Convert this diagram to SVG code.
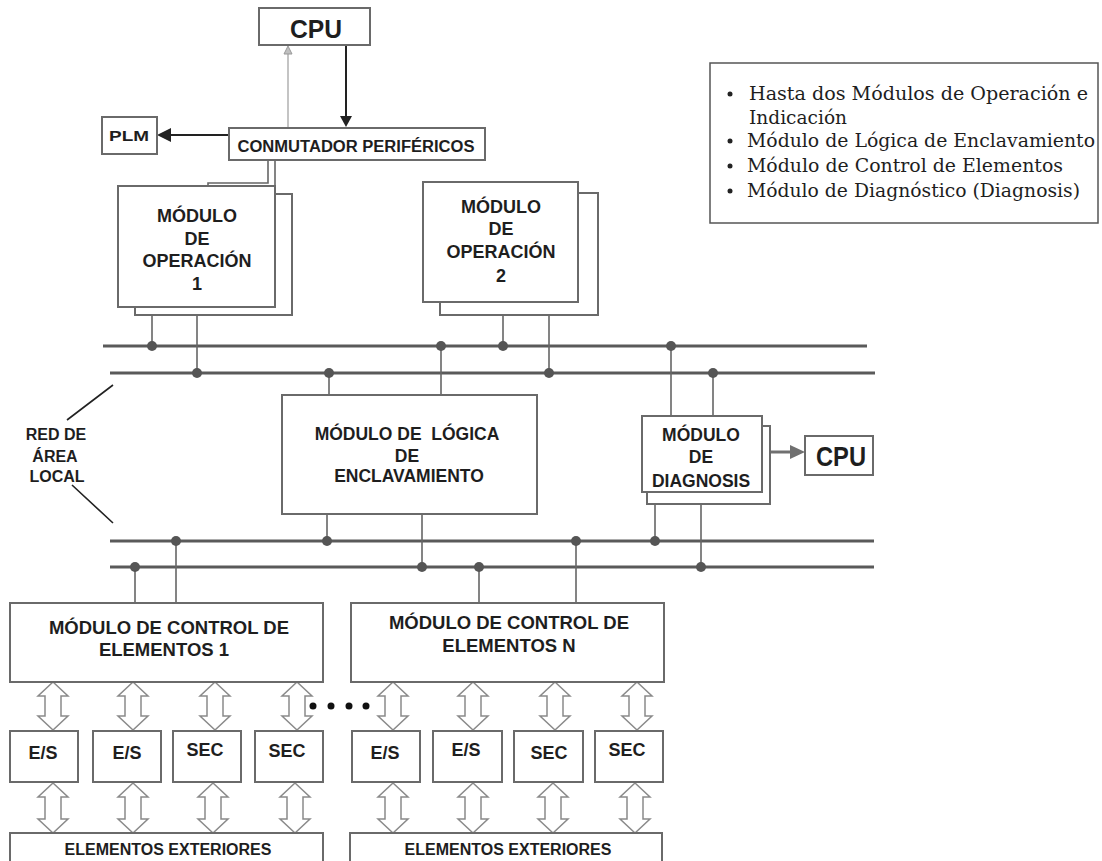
<svg xmlns="http://www.w3.org/2000/svg" width="1102" height="861" viewBox="0 0 1102 861">
<style>
.box{fill:#fff;stroke:#6a6a6a;stroke-width:2}
.t{font-family:"Liberation Sans",Arial,sans-serif;font-weight:bold;fill:#1e1e1e;text-anchor:middle}
.c{font-family:"Liberation Sans",Arial,sans-serif;font-weight:bold;fill:#1e1e1e;text-anchor:middle}
.bus{stroke:#5a5a5a;stroke-width:3;fill:none}
.wire{stroke:#666;stroke-width:1.6;fill:none}
.dot{fill:#555}
.dbl{fill:#fff;stroke:#8a8a8a;stroke-width:1.5}
.leg{font-family:"DejaVu Serif","Liberation Serif",serif;fill:#1e1e1e}
</style>
<defs>
<path id="dblU" class="dbl" d="M0,0 L15,14 L8,14 L8,34 L15,34 L0,48 L-15,34 L-8,34 L-8,14 L-15,14 Z"/>
<path id="dblL" class="dbl" d="M0,0 L15,14 L8,14 L8,36 L15,36 L0,50 L-15,36 L-8,36 L-8,14 L-15,14 Z"/>
</defs>

<g id="connectors">
<path class="bus" d="M103,346 H867 M110,373 H875 M110,541 H874 M110,567 H874"/>
<path class="wire" d="M268,160 V183 H208 V186 M275,160 V186"/>
<path class="wire" d="M152,307 V346 M197,307 V373"/>
<path class="wire" d="M503,315 V346 M549,315 V373"/>
<path class="wire" d="M329,373 V395 M441,346 V395"/>
<path class="wire" d="M327,514 V541 M422,514 V567"/>
<path class="wire" d="M671,346 V416 M713,373 V416"/>
<path class="wire" d="M655,492 V541 M701,492 V567"/>
<path class="wire" d="M135,567 V603 M176,541 V603"/>
<path class="wire" d="M479,567 V603 M576,541 V603"/>
<g class="dot">
<circle cx="152" cy="346" r="5"/><circle cx="441" cy="346" r="5"/><circle cx="503" cy="346" r="5"/><circle cx="671" cy="346" r="5"/>
<circle cx="197" cy="373" r="5"/><circle cx="329" cy="373" r="5"/><circle cx="549" cy="373" r="5"/><circle cx="713" cy="373" r="5"/>
<circle cx="176" cy="541" r="5"/><circle cx="327" cy="541" r="5"/><circle cx="576" cy="541" r="5"/><circle cx="655" cy="541" r="5"/>
<circle cx="135" cy="567" r="5"/><circle cx="422" cy="567" r="5"/><circle cx="479" cy="567" r="5"/><circle cx="701" cy="567" r="5"/>
</g>
<line x1="288" y1="128" x2="288" y2="53" stroke="#b0b0b0" stroke-width="1.5"/>
<polygon points="288,46 284,54 292,54" fill="#c0c0c0" stroke="#999" stroke-width="1"/>
<line x1="346" y1="46" x2="346" y2="118" stroke="#222" stroke-width="2"/>
<polygon points="346,127 340,116 352,116" fill="#222"/>
<line x1="229" y1="135" x2="170" y2="135" stroke="#222" stroke-width="2"/>
<polygon points="157,135 171,128 171,142" fill="#222"/>
<line x1="762" y1="452" x2="793" y2="452" stroke="#707070" stroke-width="3"/>
<polygon points="805,452 790,445 790,459" fill="#707070"/>
<path d="M113,385 L67,420 M72,485 L113,523" stroke="#222" stroke-width="1.6" fill="none"/>
<g fill="#111">
<circle cx="313" cy="706" r="3.5"/><circle cx="331" cy="706" r="3.5"/><circle cx="349" cy="706" r="3.5"/><circle cx="366" cy="706" r="3.5"/>
</g>
<use href="#dblU" x="53" y="682"/><use href="#dblU" x="133" y="682"/><use href="#dblU" x="215" y="682"/><use href="#dblU" x="297" y="682"/>
<use href="#dblU" x="393" y="682"/><use href="#dblU" x="473" y="682"/><use href="#dblU" x="555" y="682"/><use href="#dblU" x="637" y="682"/>
<use href="#dblL" x="53" y="783"/><use href="#dblL" x="133" y="783"/><use href="#dblL" x="213" y="783"/><use href="#dblL" x="295" y="783"/>
<use href="#dblL" x="393" y="783"/><use href="#dblL" x="473" y="783"/><use href="#dblL" x="553" y="783"/><use href="#dblL" x="635" y="783"/>
</g>

<g id="cpu-top">
<rect class="box" x="259" y="8" width="111" height="37"/>
<text class="c" x="316" y="38" font-size="25" textLength="52" lengthAdjust="spacingAndGlyphs">CPU</text>
</g>
<g id="conmutador">
<rect class="box" x="229" y="128" width="256" height="32"/>
<text class="t" x="356" y="152" font-size="16" textLength="237" lengthAdjust="spacingAndGlyphs">CONMUTADOR PERIFÉRICOS</text>
</g>
<g id="plm">
<rect class="box" x="102" y="117" width="55" height="37"/>
<text class="t" x="129" y="141" font-size="15" textLength="40" lengthAdjust="spacingAndGlyphs">PLM</text>
</g>
<g id="op1">
<rect class="box" x="135" y="194" width="157" height="121"/>
<rect class="box" x="118" y="186" width="157" height="121"/>
<text class="t" font-size="18"><tspan x="197" y="222">MÓDULO</tspan><tspan x="197" y="245">DE</tspan><tspan x="197" y="267">OPERACIÓN</tspan><tspan x="197" y="290">1</tspan></text>
</g>
<g id="op2">
<rect class="box" x="440" y="193" width="158" height="122"/>
<rect class="box" x="423" y="182" width="155" height="120"/>
<text class="t" font-size="18"><tspan x="501" y="213">MÓDULO</tspan><tspan x="501" y="235">DE</tspan><tspan x="501" y="258">OPERACIÓN</tspan><tspan x="501" y="282">2</tspan></text>
</g>
<g id="logica">
<rect class="box" x="282" y="395" width="255" height="119"/>
<text class="t" font-size="17.5" xml:space="preserve"><tspan x="407" y="440">MÓDULO DE  LÓGICA</tspan><tspan x="407" y="462">DE</tspan><tspan x="409" y="482">ENCLAVAMIENTO</tspan></text>
</g>
<g id="diagnosis">
<rect class="box" x="647" y="426" width="123" height="78"/>
<rect class="box" x="642" y="416" width="120" height="76"/>
<text class="t" font-size="17.5"><tspan x="701" y="441">MÓDULO</tspan><tspan x="701" y="463">DE</tspan><tspan x="701" y="487">DIAGNOSIS</tspan></text>
</g>
<g id="cpu-right">
<rect class="box" x="805" y="436" width="68" height="39"/>
<text class="c" x="841" y="466" font-size="28" textLength="50" lengthAdjust="spacingAndGlyphs">CPU</text>
</g>
<g id="red-label">
<text class="t" font-size="16"><tspan x="56" y="440">RED DE</tspan><tspan x="55" y="462">ÁREA</tspan><tspan x="57" y="482">LOCAL</tspan></text>
</g>
<g id="ctrl1">
<rect class="box" x="10" y="603" width="313" height="79"/>
<text class="t" font-size="18.5"><tspan x="169" y="634">MÓDULO DE CONTROL DE</tspan><tspan x="164" y="656">ELEMENTOS 1</tspan></text>
</g>
<g id="ctrlN">
<rect class="box" x="351" y="603" width="313" height="79"/>
<text class="t" font-size="18.5"><tspan x="509" y="629">MÓDULO DE CONTROL DE</tspan><tspan x="509" y="652">ELEMENTOS N</tspan></text>
</g>
<g id="io1">
<rect class="box" x="10" y="731" width="68" height="51"/><text class="t" x="43" y="759" font-size="18">E/S</text>
</g>
<g id="io2">
<rect class="box" x="93" y="731" width="68" height="51"/><text class="t" x="127" y="759" font-size="18">E/S</text>
</g>
<g id="sec1">
<rect class="box" x="173" y="731" width="68" height="51"/><text class="t" x="205" y="756" font-size="18">SEC</text>
</g>
<g id="sec2">
<rect class="box" x="255" y="731" width="68" height="51"/><text class="t" x="287" y="757" font-size="18">SEC</text>
</g>
<g id="io3">
<rect class="box" x="352" y="731" width="68" height="51"/><text class="t" x="385" y="759" font-size="18">E/S</text>
</g>
<g id="io4">
<rect class="box" x="433" y="731" width="69" height="51"/><text class="t" x="466" y="756" font-size="18">E/S</text>
</g>
<g id="sec3">
<rect class="box" x="514" y="731" width="69" height="51"/><text class="t" x="549" y="759" font-size="18">SEC</text>
</g>
<g id="sec4">
<rect class="box" x="595" y="731" width="68" height="51"/><text class="t" x="627" y="756" font-size="18">SEC</text>
</g>
<g id="ext1">
<rect class="box" x="10" y="833" width="313" height="30"/>
<text class="t" x="168" y="855" font-size="16">ELEMENTOS EXTERIORES</text>
</g>
<g id="extN">
<rect class="box" x="350" y="833" width="312" height="30"/>
<text class="t" x="508" y="855" font-size="16">ELEMENTOS EXTERIORES</text>
</g>
<g id="legend">
<rect x="710" y="63" width="388" height="160" fill="#fff" stroke="#555" stroke-width="1.5"/>
<g fill="#222">
<circle cx="730" cy="94" r="2.5"/><circle cx="730" cy="141" r="2.5"/><circle cx="730" cy="166" r="2.5"/><circle cx="730" cy="191" r="2.5"/>
</g>
<text class="leg" font-size="19">
<tspan x="749" y="100" textLength="339" lengthAdjust="spacingAndGlyphs">Hasta dos Módulos de Operación e</tspan>
<tspan x="749" y="124" textLength="98" lengthAdjust="spacingAndGlyphs">Indicación</tspan>
<tspan x="747" y="147" textLength="348" lengthAdjust="spacingAndGlyphs">Módulo de Lógica de Enclavamiento</tspan>
<tspan x="747" y="172" textLength="316" lengthAdjust="spacingAndGlyphs">Módulo de Control de Elementos</tspan>
<tspan x="747" y="197" textLength="333" lengthAdjust="spacingAndGlyphs">Módulo de Diagnóstico (Diagnosis)</tspan>
</text>
</g>
</svg>
